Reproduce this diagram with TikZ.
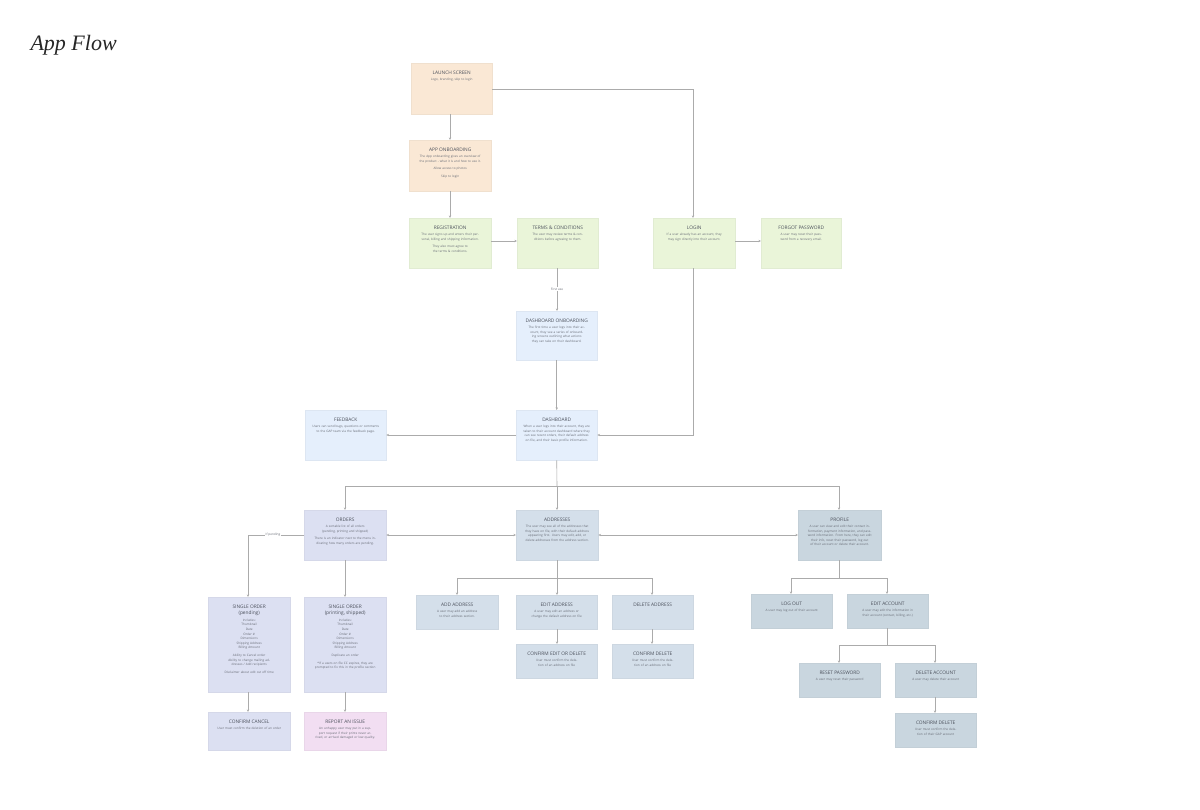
\documentclass[tikz,border=0pt]{standalone}
\usepackage{fontspec}
\setmainfont{Liberation Serif}
\newfontfamily\boxfont{Open Sans}
\usetikzlibrary{arrows.meta}
\definecolor{cOr}{HTML}{FAE8D5}
\definecolor{cGr}{HTML}{EAF5D9}
\definecolor{cBl}{HTML}{E5EFFC}
\definecolor{cLv}{HTML}{DCE0F2}
\definecolor{cSt}{HTML}{D4DFEA}
\definecolor{cPr}{HTML}{C9D6DF}
\definecolor{cPk}{HTML}{F2DEF2}
\definecolor{cLn}{HTML}{ABABAB}
\definecolor{cTx}{HTML}{4A4F5A}
\tikzset{
  flow/.style={draw=cLn,line width=0.6pt,-{Stealth[length=2.6pt,width=2.4pt]}},
  both/.style={draw=cLn,line width=0.6pt,{Stealth[length=2.6pt,width=2.4pt]}-{Stealth[length=2.6pt,width=2.4pt]}},
  plain/.style={draw=cLn,line width=0.6pt},
  ttl/.style={font=\boxfont\fontsize{4.8}{5.8}\selectfont,text=cTx,align=center,inner sep=0pt},
  bdy/.style={font=\boxfont\fontsize{3.1}{4.6}\selectfont,text=cTx!85,align=center,inner sep=0pt},
  lbl/.style={font=\boxfont\fontsize{3.1}{3.7}\selectfont,text=cTx!85,fill=white,inner sep=1pt}
}
% \bx{name}{x1}{y1}{x2}{y2}{color}{title}{body}
\newcommand{\bx}[8]{%
  \node[fill=#6,draw=#6!92!gray,line width=0.4pt,inner sep=0pt,anchor=north west,
        minimum width={(#4-#2)*1pt},minimum height={(#5-#3)*1pt}] (#1) at (#2,#3) {};
  \node[ttl,anchor=north] (#1t) at ([yshift=-8pt]#1.north) {#7};
  \node[bdy,anchor=north,text width={(#4-#2-12)*1pt}] (#1b) at ([yshift=-3pt]#1t.south) {#8};
}
\begin{document}
\begin{tikzpicture}[x=1pt,y=-1pt]
\useasboundingbox[fill=white] (0,0) rectangle (1200,810);
\node[anchor=west,font=\itshape\fontsize{22}{26}\selectfont,text=black!85] (title) at (27,45) {App Flow};

\bx{launch}{411}{63}{492}{114}{cOr}{LAUNCH SCREEN}{Logo, branding, skip to login}
\bx{onb}{409}{140}{491}{191}{cOr}{APP ONBOARDING}{The App onboarding gives an overview of the product - what it is and how to use it.\\[3pt] Allow access to photos\\[3pt] Skip to login}
\bx{reg}{409}{218}{491}{268}{cGr}{REGISTRATION}{The user signs up and enters their personal, billing and shipping information.\\[3pt] They also must agree to the terms \& conditions.}
\bx{terms}{517}{218}{598}{268}{cGr}{TERMS \& CONDITIONS}{The user may review terms \& conditions before agreeing to them.}
\bx{login}{653}{218}{735}{268}{cGr}{LOGIN}{If a user already has an account, they may sign directly into their account.}
\bx{forgot}{761}{218}{841}{268}{cGr}{FORGOT PASSWORD}{A user may reset their password from a recovery email.}
\bx{donb}{516}{311}{597}{360}{cBl}{DASHBOARD ONBOARDING}{The first time a user logs into their account, they see a series of onboarding screens outlining what actions they can take on their dashboard.}
\bx{feed}{305}{410}{386}{460}{cBl}{FEEDBACK}{Users can send bugs, questions or comments to the GAP team via the feedback page.}
\bx{dash}{516}{410}{597}{460}{cBl}{DASHBOARD}{When a user logs into their account, they are taken to their account dashboard where they can see recent orders, their default address on file, and their basic profile information.}
\bx{orders}{304}{510}{386}{560}{cLv}{ORDERS}{A sortable list of all orders (pending, printing and shipped)\\[3pt] There is an indicator next to the menu indicating how many orders are pending.}
\bx{addr}{516}{510}{598}{560}{cSt}{ADDRESSES}{The user may see all of the addresses that they have on file, with their default address appearing first. Users may edit, add, or delete addresses from the address section.}
\bx{prof}{798}{510}{881}{560}{cPr}{PROFILE}{A user can view and edit their contact information, payment information, and password information. From here, they can edit their info, reset their password, log out of their account or delete their account.}
\bx{sop}{208}{597}{290}{692}{cLv}{SINGLE ORDER\\(pending)}{Includes:\\Thumbnail\\Date\\Order \#\\Dimensions\\Shipping Address\\Billing Amount\\[3pt] Ability to Cancel order\\Ability to change mailing addresses / Add recipients\\[3pt] Disclaimer about edit cut off time}
\bx{sos}{304}{597}{386}{692}{cLv}{SINGLE ORDER\\(printing, shipped)}{Includes:\\Thumbnail\\Date\\Order \#\\Dimensions\\Shipping Address\\Billing Amount\\[3pt] Duplicate an order\\[3pt] *If a users on file CC expires, they are prompted to fix this in the profile section}
\bx{ccancel}{208}{712}{290}{750}{cLv}{CONFIRM CANCEL}{User must confirm the deletion of an order}
\bx{report}{304}{712}{386}{750}{cPk}{REPORT AN ISSUE}{An unhappy user may put in a support request if their prints never arrived, or arrived damaged or low quality.}
\bx{add}{416}{595}{498}{629}{cSt}{ADD ADDRESS}{A user may add an address to their address section.}
\bx{edit}{516}{595}{597}{629}{cSt}{EDIT ADDRESS}{A user may edit an address or change the default address on file}
\bx{del}{612}{595}{693}{629}{cSt}{DELETE ADDRESS}{}
\bx{cedit}{516}{644}{597}{678}{cSt}{CONFIRM EDIT OR DELETE}{User must confirm the deletion of an address on file}
\bx{cdel}{612}{644}{693}{678}{cSt}{CONFIRM DELETE}{User must confirm the deletion of an address on file}
\bx{logout}{751}{594}{832}{628}{cPr}{LOG OUT}{A user may log out of their account}
\bx{eacc}{847}{594}{928}{628}{cPr}{EDIT ACCOUNT}{A user may edit the information in their account (contact, billing, etc.)}
\bx{reset}{799}{663}{880}{697}{cPr}{RESET PASSWORD}{A user may reset their password}
\bx{dacc}{895}{663}{976}{697}{cPr}{DELETE ACCOUNT}{A user may delete their account}
\bx{cdacc}{895}{713}{976}{747}{cPr}{CONFIRM DELETE}{User must confirm the deletion of their GAP account}

% connectors
\draw[flow] (launch.south -| 450,0) -- (onb.north -| 450,0);
\draw[flow] (launch.east |- 0,89) -| (693,218);
\draw[flow] (onb.south -| 450,0) -- (reg.north -| 450,0);
\draw[flow] (reg.east |- 0,241) -- (terms.west |- 0,241);
\draw[flow] (login.east |- 0,241) -- (forgot.west |- 0,241);
\node[lbl] (firstuse) at (557,289) {First use};
\draw[plain] (terms.south -| 557,0) -- (firstuse.north);
\draw[flow] (firstuse.south) -- (donb.north -| 557,0);
\draw[flow] (donb.south) -- (dash.north);
\draw[flow] (login.south -| 693,0) |- (dash.east |- 0,435);
\draw[flow] (dash.west |- 0,435) -- (feed.east |- 0,435);
\coordinate (j1) at (557,486);
\draw[plain] (dash.south) -- (j1);
\draw[flow] (j1) -| (orders.north -| 345,0);
\draw[flow] (j1) -- (addr.north -| 557,0);
\draw[flow] (j1) -| (prof.north -| 839,0);
\draw[both] (orders.east |- 0,535) -- (addr.west |- 0,535);
\draw[both] (addr.east |- 0,535) -- (prof.west |- 0,535);
\node[lbl] (ifp) at (273,535) {If pending};
\draw[plain] (orders.west |- 0,535) -- (ifp.east);
\draw[flow] (ifp.west) -| (sop.north -| 248,0);
\draw[flow] (orders.south -| 345,0) -- (sos.north -| 345,0);
\draw[flow] (sop.south -| 248,0) -- (ccancel.north -| 248,0);
\draw[flow] (sos.south -| 345,0) -- (report.north -| 345,0);
\coordinate (j2) at (557,578);
\draw[plain] (addr.south -| 557,0) -- (j2);
\draw[flow] (j2) -| (add.north -| 457,0);
\draw[flow] (j2) -- (edit.north -| 557,0);
\draw[flow] (j2) -| (del.north -| 652,0);
\draw[flow] (edit.south -| 557,0) -- (cedit.north -| 557,0);
\draw[flow] (del.south -| 652,0) -- (cdel.north -| 652,0);
\coordinate (j3) at (839,578);
\draw[plain] (prof.south -| 839,0) -- (j3);
\draw[flow] (j3) -| (logout.north -| 791,0);
\draw[flow] (j3) -| (eacc.north -| 887,0);
\coordinate (j4) at (887,645);
\draw[plain] (eacc.south -| 887,0) -- (j4);
\draw[flow] (j4) -| (reset.north -| 839,0);
\draw[flow] (j4) -| (dacc.north -| 935,0);
\draw[flow] (dacc.south -| 935,0) -- (cdacc.north -| 935,0);
\end{tikzpicture}
\end{document}
